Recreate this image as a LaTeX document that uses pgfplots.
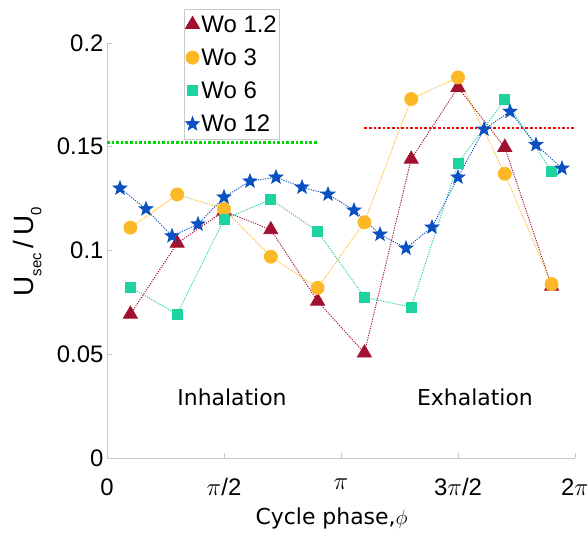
\documentclass[border=0pt]{standalone}
\usepackage{pgfplots}
\pgfplotsset{compat=1.18}
\usepackage{fontspec}
\setmainfont{Liberation Sans}
\newfontfamily\tahoma{DejaVu Sans}

\definecolor{woA}{HTML}{A2102F}
\definecolor{woB}{HTML}{FDB827}
\definecolor{woC}{HTML}{1DD3A0}
\definecolor{woD}{HTML}{0A50C0}
\definecolor{axgray}{HTML}{C8C8C8}

\newcommand{\sub}[1]{\raisebox{-0.28em}{\fontsize{15}{15}\selectfont #1}}

% filled five-point star
\pgfdeclareplotmark{fstar}{%
  \pgfpathmoveto{\pgfpointpolar{90}{\pgfplotmarksize}}%
  \pgfpathlineto{\pgfpointpolar{126}{0.42\pgfplotmarksize}}%
  \pgfpathlineto{\pgfpointpolar{162}{\pgfplotmarksize}}%
  \pgfpathlineto{\pgfpointpolar{198}{0.42\pgfplotmarksize}}%
  \pgfpathlineto{\pgfpointpolar{234}{\pgfplotmarksize}}%
  \pgfpathlineto{\pgfpointpolar{270}{0.42\pgfplotmarksize}}%
  \pgfpathlineto{\pgfpointpolar{306}{\pgfplotmarksize}}%
  \pgfpathlineto{\pgfpointpolar{342}{0.42\pgfplotmarksize}}%
  \pgfpathlineto{\pgfpointpolar{18}{\pgfplotmarksize}}%
  \pgfpathlineto{\pgfpointpolar{54}{0.42\pgfplotmarksize}}%
  \pgfpathclose
  \pgfusepathqfillstroke}

\begin{document}
\begin{tikzpicture}
\path[use as bounding box] (-107bp,-75bp) rectangle (480bp,458bp);
\begin{axis}[
  scale only axis,
  width=468bp, height=415bp,
  xmin=0, xmax=6.28319,
  ymin=0, ymax=0.2,
  axis x line*=bottom, axis y line*=left,
  axis line style={axgray, line width=0.8bp},
  tick style={axgray, line width=0.8bp},
  tick align=inside,
  major tick length=5bp,
  xtick={0,1.5708,3.14159,4.71239,6.28319},
  xticklabels={0,$\pi$/2,$\pi$,3$\pi$/2,2$\pi$},
  ytick={0,0.05,0.1,0.15,0.2},
  yticklabels={0,0.05,0.1,0.15,0.2},
  ticklabel style={font=\fontsize{24}{28}\selectfont},
  xticklabel style={yshift=-17bp},
  xlabel={\tahoma Cycle phase,$\phi$},
  xlabel style={at={(axis description cs:0.31,-0.145)}, anchor=west, font=\fontsize{22}{26}\selectfont},
  ylabel={U\sub{sec}\,/\,U\sub{0}},
  ylabel style={at={(axis description cs:-0.17,0.381)}, anchor=west, font=\fontsize{28}{32}\selectfont},
  clip=false,
  legend style={at={(rel axis cs:0.370,1.082)}, anchor=north east,
    draw=axgray, line width=0.8bp, font=\fontsize{24}{29}\selectfont,
    inner xsep=1bp, inner ysep=4bp, row sep=11bp},
  legend cell align=left,
  legend image code/.code={\draw[mark repeat=2,mark phase=2] plot coordinates {(0bp,0bp)(6bp,0bp)(12bp,0bp)};},
  every axis plot/.append style={line width=0.9bp, dash pattern=on 1.2bp off 1.2bp},
]

% reference levels
\addplot[forget plot, color=green!85!black, line width=2.6bp, dash pattern=on 2.6bp off 2bp]
  coordinates {(0,0.152) (2.82743,0.152)};
\addplot[forget plot, color=red, line width=2.6bp, dash pattern=on 2.6bp off 2bp]
  coordinates {(3.45575,0.159) (6.28319,0.159)};

% Wo 1.2
\addplot[color=woA, mark=triangle*, mark size=8bp, mark options={solid, fill=woA}]
  coordinates {(0.31416,0.0693) (0.94248,0.1035) (1.5708,0.119) (2.19911,0.110)
    (2.82743,0.0756) (3.45575,0.0506) (4.08407,0.144) (4.71239,0.1786)
    (5.34071,0.1497) (5.96903,0.0828)};
\addlegendentry{Wo 1.2}

% Wo 3
\addplot[color=woB, mark=*, mark size=6.5bp, mark options={solid, fill=woB, draw=woB}]
  coordinates {(0.31416,0.111) (0.94248,0.127) (1.5708,0.120) (2.19911,0.097)
    (2.82743,0.082) (3.45575,0.1136) (4.08407,0.173) (4.71239,0.1834)
    (5.34071,0.137) (5.96903,0.0838)};
\addlegendentry{Wo 3}

% Wo 6
\addplot[color=woC, mark=square*, mark size=5bp, mark options={solid, fill=woC, draw=woC}]
  coordinates {(0.31416,0.0823) (0.94248,0.0693) (1.5708,0.115) (2.19911,0.1247)
    (2.82743,0.1093) (3.45575,0.0775) (4.08407,0.0727) (4.71239,0.142)
    (5.34071,0.1728) (5.96903,0.138)};
\addlegendentry{Wo 6}

% Wo 12
\addplot[color=woD, mark=fstar, mark size=7bp, mark options={solid, fill=woD, draw=woD}]
  coordinates {(0.1745,0.130) (0.5236,0.120) (0.8727,0.107) (1.2217,0.1127)
    (1.5708,0.1257) (1.9199,0.1334) (2.2689,0.1353) (2.6180,0.1305)
    (2.9671,0.1271) (3.3161,0.1194) (3.6652,0.1078) (4.0143,0.1011)
    (4.3633,0.1112) (4.7124,0.1353) (5.0615,0.1584) (5.4105,0.167)
    (5.7596,0.151) (6.1087,0.1396)};
\addlegendentry{Wo 12}

\node[font=\tahoma\fontsize{22}{26}\selectfont] at (axis cs:1.678,0.0294) {Inhalation};
\node[font=\tahoma\fontsize{22}{26}\selectfont] at (axis cs:4.94,0.0294) {Exhalation};
\end{axis}
\end{tikzpicture}
\end{document}
